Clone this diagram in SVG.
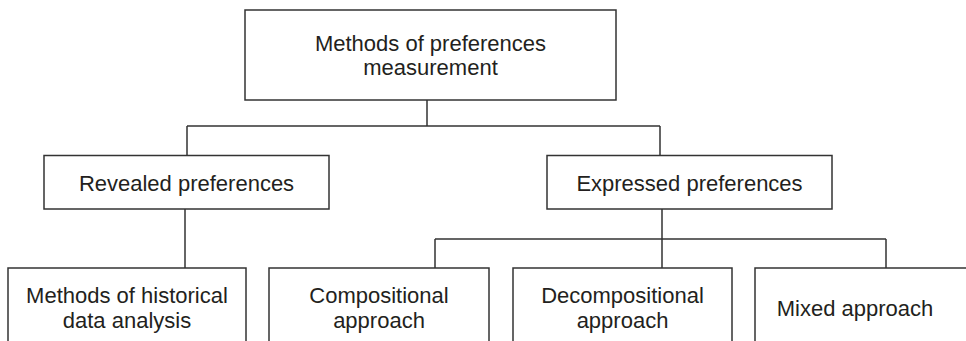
<svg xmlns="http://www.w3.org/2000/svg" width="966" height="341" viewBox="0 0 966 341">
<style>
.box{fill:#fff;stroke:#333;stroke-width:1.5}
.ln{fill:none;stroke:#333;stroke-width:1.5}
text{font-family:"Liberation Sans",Arial,sans-serif;font-size:22px;fill:#231f20;text-anchor:middle}
</style>
<rect width="966" height="341" fill="#fff"/>
<g id="connectors">
<path class="ln" d="M427 100V126M187 126H660M187 126V155.5M660 126V155.5"/>
<path class="ln" d="M185 209V268"/>
<path class="ln" d="M662 209V268M435 239H886M435 239V268M886 239V268"/>
</g>
<g id="root">
<rect class="box" x="245" y="10" width="371" height="90"/>
<text x="430.5" y="51">Methods of preferences</text>
<text x="430.5" y="75">measurement</text>
</g>
<g id="revealed">
<rect class="box" x="44" y="155.5" width="285" height="53.5"/>
<text x="186.5" y="191">Revealed preferences</text>
</g>
<g id="expressed">
<rect class="box" x="547" y="155.5" width="285" height="53.5"/>
<text x="689.5" y="191">Expressed preferences</text>
</g>
<g id="historical">
<rect class="box" x="8" y="268" width="238" height="100"/>
<text x="127" y="302.5">Methods of historical</text>
<text x="127" y="327.5">data analysis</text>
</g>
<g id="compositional">
<rect class="box" x="269" y="268" width="220" height="100"/>
<text x="379" y="302.5">Compositional</text>
<text x="379" y="327.5">approach</text>
</g>
<g id="decompositional">
<rect class="box" x="513" y="268" width="219" height="100"/>
<text x="622.5" y="302.5">Decompositional</text>
<text x="622.5" y="327.5">approach</text>
</g>
<g id="mixed">
<rect class="box" x="755" y="268" width="230" height="100"/>
<text x="855" y="315.5">Mixed approach</text>
</g>
</svg>
